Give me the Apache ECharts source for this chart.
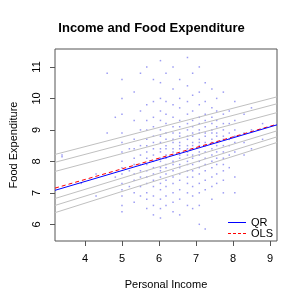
<!DOCTYPE html>
<html><head><meta charset="utf-8">
<script src="https://cdn.jsdelivr.net/npm/echarts@6/dist/echarts.min.js"></script>
<style>html,body{margin:0;padding:0;background:#fff}#c{width:303px;height:303px}</style>
</head><body><div id="c"></div>
<script>
// axis extents and ticks
const xTicks = [4, 5, 6, 7, 8, 9];
const yTicks = [6, 7, 8, 9, 10, 11];
const xRange = [3.19, 9.19];
const yRange = [5.47, 11.57];

// regression lines: values at left and right edge of x range
const lineX = [3.19, 9.19];
const quantileNames = ['0.05', '0.10', '0.25', '0.75', '0.90', '0.95'];
const quantileLeft  = [6.37, 6.60, 6.82, 7.68, 7.97, 8.22];
const quantileRight = [8.60, 8.78, 8.97, 9.55, 9.83, 10.05];
const qrLine  = [7.08, 9.16];
const olsLine = [7.15, 9.18];

// scatter: income columns and the food expenditure values observed in each
const colX = [3.38, 3.9, 4.3, 4.6, 4.82, 5.0, 5.2, 5.33, 5.5, 5.67, 5.85, 6.04, 6.19, 6.38, 6.56, 6.77, 6.91, 7.09, 7.25, 7.43, 7.56, 7.74, 7.9, 8.05, 8.3, 8.5, 8.8];
const colY = [
  [8.15, 8.2],
  [7.3],
  [7.6, 6.9],
  [10.8, 8.9],
  [9.4, 7.5],
  [10.6, 10.0, 9.5, 8.9, 8.6, 8.3, 8.0, 7.8, 7.6, 7.3, 7.1, 6.9, 6.6, 6.4],
  [8.4, 7.7, 7.2],
  [10.2, 9.3, 8.7, 8.4, 8.1, 7.9, 7.6, 7.4, 7.0, 6.7],
  [10.8, 9.6, 9.0, 8.5, 8.2, 7.9, 7.7, 7.5, 7.2, 6.9],
  [11.0, 9.8, 9.3, 9.0, 8.7, 8.5, 8.3, 8.1, 7.9, 7.7, 7.5, 7.3, 7.0, 6.8, 6.5],
  [10.6, 9.9, 9.4, 9.1, 8.8, 8.6, 8.4, 8.2, 8.0, 7.8, 7.6, 7.4, 7.2, 6.9, 6.6, 6.3],
  [11.2, 10.5, 10.0, 9.6, 9.3, 9.0, 8.8, 8.6, 8.4, 8.3, 8.1, 8.0, 7.8, 7.7, 7.5, 7.3, 7.1, 6.8, 6.5, 6.2],
  [10.8, 9.9, 9.5, 9.2, 8.9, 8.7, 8.5, 8.4, 8.2, 8.1, 7.9, 7.8, 7.6, 7.4, 7.2, 6.9, 6.6],
  [11.0, 10.3, 9.8, 9.4, 9.1, 8.9, 8.7, 8.6, 8.4, 8.3, 8.2, 8.0, 7.9, 7.7, 7.5, 7.3, 7.0, 6.7, 6.4],
  [10.6, 10.0, 9.7, 9.3, 9.1, 8.9, 8.8, 8.6, 8.5, 8.4, 8.2, 8.1, 7.9, 7.8, 7.6, 7.4, 7.1, 6.8, 6.3],
  [11.3, 10.4, 9.9, 9.5, 9.2, 9.0, 8.8, 8.7, 8.5, 8.4, 8.3, 8.2, 8.0, 7.9, 7.7, 7.5, 7.3, 7.0, 6.6],
  [10.8, 10.1, 9.6, 9.3, 9.1, 8.9, 8.8, 8.6, 8.5, 8.4, 8.2, 8.1, 7.9, 7.7, 7.5, 7.2, 6.9, 6.5],
  [11.0, 10.2, 9.8, 9.4, 9.2, 9.0, 8.9, 8.7, 8.6, 8.5, 8.3, 8.2, 8.0, 7.8, 7.6, 7.3, 7.0, 6.6, 6.0],
  [10.5, 9.9, 9.5, 9.3, 9.1, 8.9, 8.8, 8.6, 8.5, 8.3, 8.1, 7.9, 7.7, 7.4, 7.1, 5.85],
  [10.3, 9.7, 9.4, 9.2, 9.0, 8.9, 8.7, 8.6, 8.4, 8.2, 8.0, 7.8, 7.5, 7.2, 6.8],
  [10.0, 9.6, 9.3, 9.1, 8.9, 8.8, 8.6, 8.5, 8.3, 8.1, 7.9, 7.6, 7.3],
  [10.2, 9.5, 9.2, 9.0, 8.8, 8.7, 8.5, 8.3, 8.1, 7.9, 7.7, 7.4, 7.0],
  [9.6, 9.2, 8.9, 8.7, 8.5, 8.2, 7.8],
  [9.9, 9.3, 9.0, 8.8, 8.6, 8.3, 7.5, 7.0],
  [9.5, 8.9, 8.6, 8.2],
  [9.7, 9.0, 8.4],
  [9.2, 8.7]
];

const pts = [];
colX.forEach((x, i) => colY[i].forEach(y => pts.push([x, y])));

const FONT = 'Liberation Sans, Arial, sans-serif';
const QR_COLOR = '#0000ff', OLS_COLOR = '#ff0000';
const series = [{
  type: 'scatter', name: 'data', data: pts, symbol: 'rect', symbolSize: [1.5, 1.5],
  itemStyle: { color: 'rgba(90,90,235,0.75)' }, silent: true, z: 1
}];
quantileNames.forEach((n, i) => series.push({
  type: 'line', name: 'q' + n, data: [[lineX[0], quantileLeft[i]], [lineX[1], quantileRight[i]]],
  symbol: 'none', lineStyle: { color: '#c0c0c0', width: 1 }, silent: true, z: 2
}));
series.push({
  type: 'line', name: 'OLS', data: [[lineX[0], olsLine[0]], [lineX[1], olsLine[1]]],
  symbol: 'none', color: OLS_COLOR, itemStyle: { color: OLS_COLOR },
  lineStyle: { color: OLS_COLOR, width: 1, type: [4, 3] }, z: 3
});
series.push({
  type: 'line', name: 'QR', data: [[lineX[0], qrLine[0]], [lineX[1], qrLine[1]]],
  symbol: 'none', color: QR_COLOR, itemStyle: { color: QR_COLOR },
  lineStyle: { color: QR_COLOR, width: 1 }, z: 4
});

const chart = echarts.init(document.getElementById('c'), null, { renderer: 'canvas' });
chart.setOption({
  animation: false,
  backgroundColor: '#fff',
  title: {
    text: 'Income and Food Expenditure', left: 'center', top: 17,
    textStyle: { fontFamily: FONT, fontSize: 13, fontWeight: 'bold', color: '#000' }
  },
  legend: {
    data: [
      { name: 'QR', icon: 'path://M0,0H18V1H0Z', itemStyle: { color: QR_COLOR, opacity: 1, borderWidth: 0 } },
      { name: 'OLS', icon: 'path://M0,0H3V1H0Z M5,0H8V1H5Z M10,0H13V1H10Z M15,0H18V1H15Z', itemStyle: { color: OLS_COLOR, opacity: 1, borderWidth: 0 } }
    ],
    orient: 'vertical', right: 25, top: 212, itemGap: 0,
    itemWidth: 18, itemHeight: 1,
    textStyle: { fontFamily: FONT, fontSize: 11, color: '#000', padding: [0, 0, 0, 0], lineHeight: 11 }
  },
  grid: {
    left: 49, right: 26, top: 49, bottom: 62, show: true,
    borderColor: '#555', borderWidth: 1, backgroundColor: 'transparent'
  },
  xAxis: {
    type: 'value', min: xRange[0], max: xRange[1],
    name: 'Personal Income', nameLocation: 'middle', nameGap: 38,
    nameTextStyle: { fontFamily: FONT, fontSize: 11, color: '#000' },
    axisLine: { show: false },
    axisTick: { show: true, length: 5, customValues: xTicks, lineStyle: { color: '#555' } },
    axisLabel: { customValues: xTicks, margin: 12, fontFamily: FONT, fontSize: 11, color: '#000' },
    splitLine: { show: false }
  },
  yAxis: {
    type: 'value', min: yRange[0], max: yRange[1],
    name: 'Food Expenditure', nameLocation: 'middle', nameGap: 36, nameRotate: 90,
    nameTextStyle: { fontFamily: FONT, fontSize: 11, color: '#000' },
    axisLine: { show: false },
    axisTick: { show: true, length: 5, customValues: yTicks, lineStyle: { color: '#555' } },
    axisLabel: { customValues: yTicks, rotate: 90, margin: 13, fontFamily: FONT, fontSize: 11, color: '#000' },
    splitLine: { show: false }
  },
  series: series
});
</script>
</body></html>
